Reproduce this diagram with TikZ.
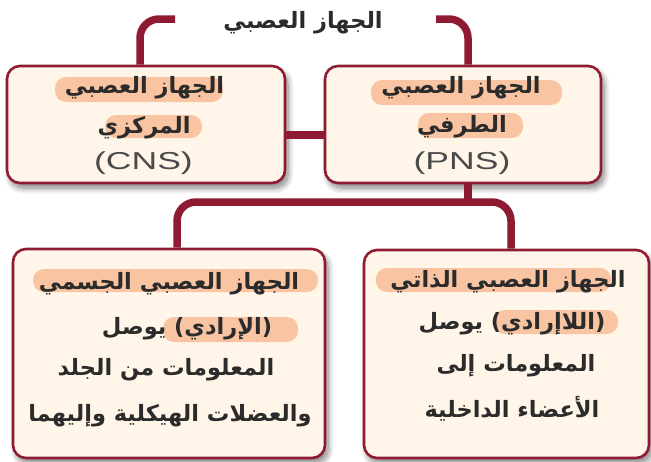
\documentclass[tikz,border=0pt]{standalone}
\usepackage{fontspec}
\setmainfont{Liberation Sans}
\newfontfamily\arabicfont[Script=Arabic]{DejaVu Sans}
\TeXXeTstate=1
\usetikzlibrary{shadows.blur}
\definecolor{crimson}{HTML}{8E1B31}
\definecolor{cream}{HTML}{FFF6E9}
\definecolor{peach}{HTML}{F9C4A2}
\definecolor{ink}{HTML}{2B2B2B}
\definecolor{grayt}{HTML}{4A4A4A}
\tikzset{
  box/.style={draw=crimson, line width=2.6pt, fill=cream, rounded corners=13pt,
    blur shadow={shadow xshift=3pt, shadow yshift=-5pt, shadow blur radius=6pt, shadow blur steps=10, shadow opacity=50}},
  bracket/.style={draw=crimson, line width=7.5pt, rounded corners=19pt},
  hl/.style={fill=peach, rounded corners=11pt},
  ar/.style={font=\arabicfont\bfseries\fontsize{22.5}{22.5}\selectfont, text=ink, inner sep=0pt},
  lat/.style={font=\fontsize{24.5}{24.5}\selectfont, text=grayt, inner sep=0pt}
}
\newcommand{\AR}[1]{\beginR #1\endR}
\newcommand{\wide}[1]{\scalebox{1.45}[1]{#1}}
\begin{document}
\begin{tikzpicture}[x=1pt, y=-1pt]
\useasboundingbox (0,0) rectangle (651,461);
% boxes
\node[box, minimum width=278pt, minimum height=117pt] (cns) at (146,124.5) {};
\node[box, minimum width=276pt, minimum height=117pt] (pns) at (463,124.5) {};
\node[box, minimum width=312pt, minimum height=209pt] (som) at (169,353.5) {};
\node[box, minimum width=285pt, minimum height=208pt] (aut) at (506.5,354) {};
% title
\node[ar] (title) at (303,23) {\AR{الجهاز العصبي}};
% connectors
\coordinate (tL) at (175,19);
\coordinate (tR) at (436,19);
\coordinate (hb) at (468,202);
\draw[bracket] (tL) -| ([xshift=-6pt]cns.north);
\draw[bracket] (tR) -| ([xshift=5pt]pns.north);
\draw[crimson, line width=8pt] ([yshift=-10.5pt]cns.east) -- ([yshift=-10.5pt]pns.west);
\draw[bracket] ([xshift=8pt]som.north) |- (hb) -| ([xshift=4.5pt]aut.north);
\draw[crimson, line width=7.5pt] ([xshift=5pt]pns.south) -- (hb);
% highlights
\fill[hl] (55,77) rectangle (223,102);
\fill[hl] (105,115) rectangle (202,138);
\fill[hl] (371,80) rectangle (562,105);
\fill[hl] (418,113) rectangle (523,138);
\fill[hl] (33,269) rectangle (318,292);
\fill[hl] (163,317) rectangle (298,342);
\fill[hl] (376,268) rectangle (611,292);
\fill[hl] (494,310) rectangle (618,334);
% texts
\node[ar] (c1) at (144.5,88) {\AR{الجهاز العصبي}};
\node[ar] (c2) at (144,128) {\AR{المركزي}};
\node[lat] (c3) at (143.5,163) {\wide{(CNS)}};
\node[ar] (p1) at (461,88) {\AR{الجهاز العصبي}};
\node[ar] (p2) at (462,127) {\AR{الطرفي}};
\node[lat] (p3) at (462,163) {\wide{(PNS)}};
\node[ar] (s1) at (169,284) {\AR{الجهاز العصبي الجسمي}};
\node[ar] (s2) at (187,329) {\AR{(الإرادي) يوصل}};
\node[ar] (s3) at (166,370) {\AR{المعلومات من الجلد}};
\node[ar] (s4) at (170,416) {\AR{والعضلات الهيكلية وإليهما}};
\node[ar] (a1) at (508,282) {\AR{الجهاز العصبي الذاتي}};
\node[ar] (a2) at (512,324) {\AR{(اللاإرادي) يوصل}};
\node[ar] (a3) at (516,366) {\AR{المعلومات إلى}};
\node[ar] (a4) at (512,409) {\AR{الأعضاء الداخلية}};
\end{tikzpicture}
\end{document}
